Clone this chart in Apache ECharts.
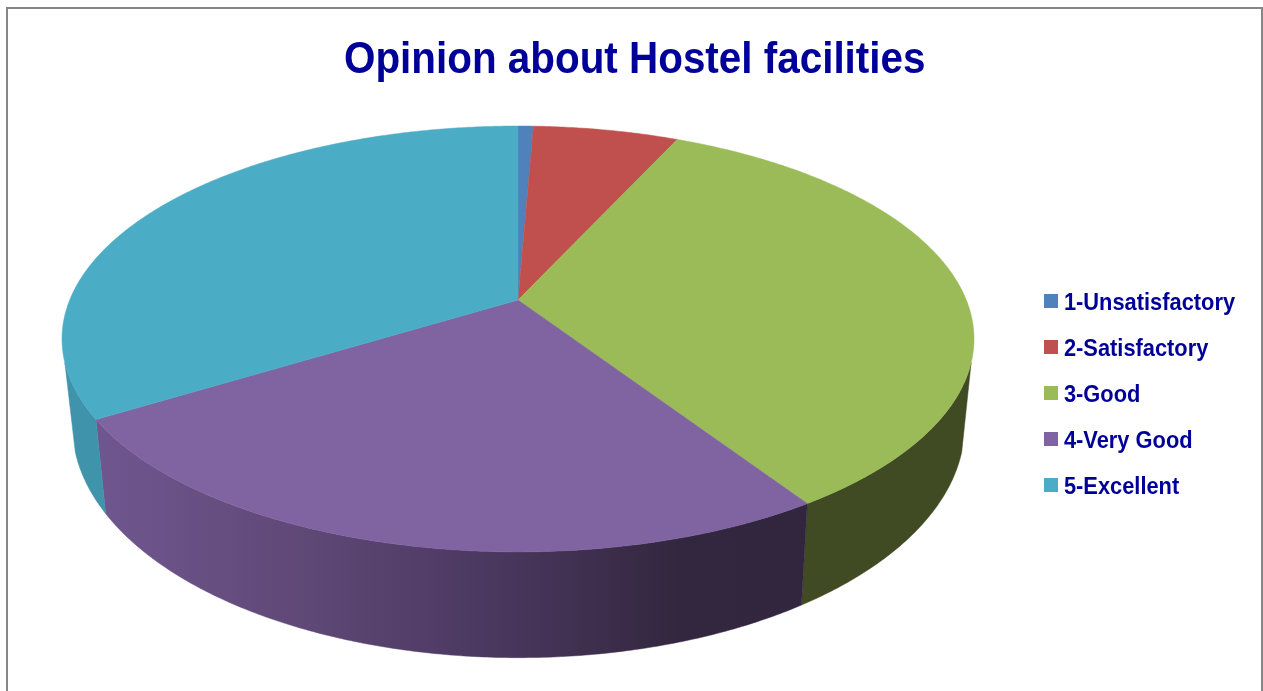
<!DOCTYPE html>
<html>
<head>
<meta charset="utf-8">
<style>html,body{margin:0;padding:0;background:#fff;overflow:hidden}#c{width:1263px;height:691px}</style>
<script src="https://cdn.jsdelivr.net/npm/echarts@6/dist/echarts.min.js"></script>
</head>
<body>
<div id="c"></div>
<script>
var chartTitle = 'Opinion about Hostel facilities';
var categories = ['1-Unsatisfactory', '2-Satisfactory', '3-Good', '4-Very Good', '5-Excellent'];
var shares = [0.65, 6.15, 34.0, 25.4, 33.8];
var topColors = ['#4F81BD', '#C0504D', '#9BBB59', '#8064A2', '#4BACC6'];

// perspective model of the tilted disc: rim = apex + (R sin t, -K cos t) / (1 + p cos t)
var PERSP = 0.183;
var TOP_RIM = { cx: 518, cy: 300, R: 448.3, K: 205.8 };
var BOTTOM_RIM = { cx: 518.5, cy: 383.5, R: 438.5, K: 224 };
var SILHOUETTE_DEG = 106.8;
var TITLE_SQUEEZE = 0.902;
var LEGEND_SQUEEZE = 0.91;
var LEGEND_TEXT_NUDGE = 2;

function rim(plane, deg) {
  var a = deg * Math.PI / 180, s = Math.sin(a), c = Math.cos(a), w = 1 + PERSP * c;
  return [plane.cx + plane.R * s / w, plane.cy - plane.K * c / w];
}
function arc(plane, d0, d1) {
  var n = Math.max(2, Math.ceil(Math.abs(d1 - d0) / 0.5)), pts = [];
  for (var i = 0; i <= n; i++) pts.push(rim(plane, d0 + (d1 - d0) * i / n));
  return pts;
}
var total = shares.reduce(function (a, b) { return a + b; }, 0);
function startDeg(idx) {
  var sum = 0;
  for (var i = 0; i < idx; i++) sum += shares[i];
  return sum / total * 360;
}
function sideFill(idx) {
  if (idx === 3) {
    return new echarts.graphic.LinearGradient(96, 0, 806, 0, [
      { offset: 0, color: '#70568F' },
      { offset: 0.3, color: '#5E4876' },
      { offset: 0.55, color: '#4B3860' },
      { offset: 0.82, color: '#33273F' },
      { offset: 1, color: '#32263F' }
    ], true);
  }
  return idx === 2 ? '#404A23' : idx === 4 ? '#3F93AB' : topColors[idx];
}
function renderSlice(idx) {
  return function (params, api) {
    var d0 = startDeg(idx), d1 = d0 + api.value(0) / total * 360;
    var children = [];
    var a = Math.max(d0, SILHOUETTE_DEG), b = Math.min(d1, 360 - SILHOUETTE_DEG);
    if (b > a) {
      var fill = sideFill(idx);
      children.push({
        type: 'polygon', z2: 1,
        shape: { points: arc(TOP_RIM, a, b).concat(arc(BOTTOM_RIM, b, a)) },
        style: { fill: fill, stroke: fill, lineWidth: 0.5 }
      });
    }
    children.push({
      type: 'polygon', z2: 2,
      shape: { points: [[TOP_RIM.cx, TOP_RIM.cy]].concat(arc(TOP_RIM, d0, d1)) },
      style: { fill: topColors[idx], stroke: topColors[idx], lineWidth: 0.5 }
    });
    return { type: 'group', children: children };
  };
}
var chart = echarts.init(document.getElementById('c'), null, { renderer: 'canvas' });
chart.setOption({
  animation: false,
  backgroundColor: '#ffffff',
  title: {
    text: chartTitle, left: 344, top: 38, padding: 0,
    textStyle: { fontFamily: '"Liberation Sans", Arial, sans-serif', fontWeight: 'bold', fontSize: 44.8, color: '#000099' }
  },
  legend: {
    orient: 'vertical', left: 1044, top: 285, padding: 0,
    itemWidth: 14, itemHeight: 14, itemGap: 14, icon: 'rect', selectedMode: false,
    data: categories,
    textStyle: { fontFamily: '"Liberation Sans", Arial, sans-serif', fontWeight: 'bold', fontSize: 24, lineHeight: 24, color: '#000099', padding: [8, 0, 0, 1] }
  },
  graphic: [{
    type: 'rect', silent: true, z: -1,
    shape: { x: 7, y: 8, width: 1255, height: 720 },
    style: { fill: 'none', stroke: '#868686', lineWidth: 2 }
  }],
  series: categories.map(function (name, i) {
    return {
      type: 'custom', name: name, coordinateSystem: 'none', silent: true,
      itemStyle: { color: topColors[i] },
      data: [[shares[i]]],
      renderItem: renderSlice(i)
    };
  })
});
// the source font is about 10% narrower than Liberation Sans Bold
var zr = chart.getZr();
zr.storage.getRoots().forEach(function (root) {
  function squeeze(el) {
    if (el.type === 'text' || (el.style && el.style.text != null && !el.isGroup)) {
      var isTitle = el.style.text === chartTitle;
      el.originX = el.style.x || 0;
      el.scaleX = isTitle ? TITLE_SQUEEZE : LEGEND_SQUEEZE;
      if (!isTitle) el.y = (el.y || 0) + LEGEND_TEXT_NUDGE;
      if (el.dirty) el.dirty();
    }
  }
  squeeze(root);
  if (root.traverse) root.traverse(squeeze);
});
zr.refresh();
</script>
</body>
</html>
